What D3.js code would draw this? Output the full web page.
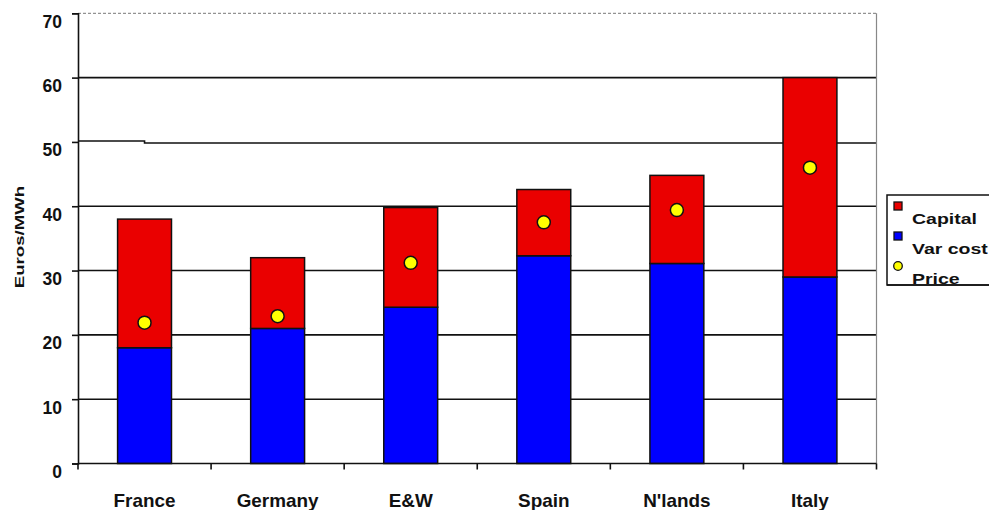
<!DOCTYPE html>
<html>
<head>
<meta charset="utf-8">
<script src="https://cdn.jsdelivr.net/npm/d3@7"></script>
<style>
  html, body { margin: 0; padding: 0; background: #fff; }
  svg { display: block; font-family: "Liberation Sans", Arial, sans-serif; }
</style>
</head>
<body>
<svg id="chart" width="989" height="510"></svg>
<script>
// Generation cost components and observed prices by market (Euros/MWh)
const categories = ["France", "Germany", "E&W", "Spain", "N'lands", "Italy"];
const varCost = [18, 21, 24.3, 32.3, 31.1, 29];
const capital = [20, 11, 15.5, 10.3, 13.7, 31];
const price = [21.9, 22.9, 31.2, 37.5, 39.4, 46];
const yTicks = [0, 10, 20, 30, 40, 50, 60, 70];
const legendItems = ["Capital", "Var cost", "Price"];

const colors = { capital: "#ea0000", varCost: "#0000ff", price: "#ffff00" };
const ink = "#111";

const svg = d3.select("#chart");
const plot = { left: 78, right: 876.5, top: 13.3, bottom: 463.5 };

const x = d3.scaleBand().domain(categories).range([plot.left, plot.right]).padding(0);
const y = d3.scaleLinear().domain([0, 70]).range([plot.bottom, plot.top]);
const barFrac = 0.405;
const barW = x.bandwidth() * barFrac;
const barX = c => x(c) + (x.bandwidth() - barW) / 2;

// Gridlines (the 50 line has a small step in it near the axis)
const grid = svg.append("g");
yTicks.filter(v => v > 0 && v < 70).forEach(v => {
  if (v === 50) {
    const stepX = plot.left + x.bandwidth() / 2;
    grid.append("path")
      .attr("d", `M${plot.left},${y(v) - 1}H${stepX}V${y(v) + 1}H${plot.right}`)
      .attr("fill", "none").attr("stroke", ink).attr("stroke-width", 1.6);
  } else {
    grid.append("line")
      .attr("x1", plot.left).attr("x2", plot.right)
      .attr("y1", y(v)).attr("y2", y(v))
      .attr("stroke", ink).attr("stroke-width", 1.6);
  }
});

// Top and right frame
svg.append("line")
  .attr("x1", plot.left).attr("x2", plot.right)
  .attr("y1", y(70)).attr("y2", y(70))
  .attr("stroke", "#777").attr("stroke-width", 1).attr("stroke-dasharray", "3,2");
svg.append("line")
  .attr("x1", plot.right).attr("x2", plot.right)
  .attr("y1", y(70)).attr("y2", plot.bottom)
  .attr("stroke", "#888").attr("stroke-width", 1.2);

// Stacked bars
const bars = svg.append("g");
categories.forEach((c, i) => {
  bars.append("rect")
    .attr("x", barX(c)).attr("width", barW)
    .attr("y", y(varCost[i])).attr("height", y(0) - y(varCost[i]))
    .attr("fill", colors.varCost).attr("stroke", ink).attr("stroke-width", 1.5);
  bars.append("rect")
    .attr("x", barX(c)).attr("width", barW)
    .attr("y", y(varCost[i] + capital[i])).attr("height", y(varCost[i]) - y(varCost[i] + capital[i]))
    .attr("fill", colors.capital).attr("stroke", ink).attr("stroke-width", 1.5);
});

// Price markers
svg.append("g").selectAll("circle")
  .data(categories)
  .join("circle")
  .attr("cx", c => x(c) + x.bandwidth() / 2)
  .attr("cy", (c, i) => y(price[i]))
  .attr("r", 6.5)
  .attr("fill", colors.price).attr("stroke", ink).attr("stroke-width", 1.5);

// Y axis
const yAxis = svg.append("g")
  .attr("transform", `translate(${plot.left},0)`)
  .call(d3.axisLeft(y).tickValues(yTicks).tickSize(6).tickPadding(10));
yAxis.select(".domain").attr("stroke", ink).attr("stroke-width", 1.6);
yAxis.selectAll(".tick line").attr("stroke", ink).attr("stroke-width", 1.6);
yAxis.selectAll(".tick text")
  .attr("font-size", 17.5).attr("font-weight", "bold").attr("fill", ink)
  .attr("dy", "0.8em").attr("font-family", "Liberation Sans, Arial, sans-serif");

// X axis with ticks at category boundaries
const xAxis = svg.append("g")
  .attr("transform", `translate(0,${plot.bottom})`);
xAxis.append("line")
  .attr("x1", plot.left).attr("x2", plot.right)
  .attr("stroke", ink).attr("stroke-width", 1.6);
xAxis.selectAll("line.tk")
  .data(categories.concat(["_end"]))
  .join("line").attr("class", "tk")
  .attr("x1", (c, i) => i < categories.length ? x(c) : plot.right)
  .attr("x2", (c, i) => i < categories.length ? x(c) : plot.right)
  .attr("y1", 0).attr("y2", 6)
  .attr("stroke", ink).attr("stroke-width", 1.6);
xAxis.selectAll("text")
  .data(categories)
  .join("text")
  .attr("x", c => x(c) + x.bandwidth() / 2)
  .attr("y", 44)
  .attr("text-anchor", "middle")
  .attr("font-size", 17.5).attr("font-weight", "bold").attr("fill", ink)
  .attr("transform", c => `translate(${x(c) + x.bandwidth() / 2},0) scale(1.08,1) translate(${-(x(c) + x.bandwidth() / 2)},0)`)
  .text(c => c);

// Y axis title
svg.append("text")
  .attr("transform", "translate(24,237) rotate(-90) scale(1.38,1)")
  .attr("text-anchor", "middle")
  .attr("font-size", 13.5).attr("font-weight", "bold").attr("fill", ink)
  .text("Euros/MWh");

// Legend
const legend = svg.append("g").attr("transform", "translate(887,195)");
legend.append("rect")
  .attr("x", 0).attr("y", 0).attr("width", 140).attr("height", 90)
  .attr("fill", "#fff").attr("stroke", ink).attr("stroke-width", 1.5);
const legendColors = [colors.capital, colors.varCost, colors.price];
legendItems.forEach((name, i) => {
  const gy = 30 * i;
  if (i < 2) {
    legend.append("rect")
      .attr("x", 7).attr("y", gy + 7).attr("width", 8).attr("height", 8)
      .attr("fill", legendColors[i]).attr("stroke", ink).attr("stroke-width", 1.3);
  } else {
    legend.append("circle")
      .attr("cx", 11).attr("cy", gy + 11).attr("r", 4.3)
      .attr("fill", legendColors[i]).attr("stroke", ink).attr("stroke-width", 1.3);
  }
  legend.append("text")
    .attr("transform", `translate(25,${gy + 29}) scale(1.3,1)`)
    .attr("font-size", 15).attr("font-weight", "bold").attr("fill", ink)
    .text(name);
});
// Keep the bottom border drawn over the last legend label
legend.append("line")
  .attr("x1", 0).attr("x2", 140).attr("y1", 90).attr("y2", 90)
  .attr("stroke", ink).attr("stroke-width", 1.5);
</script>
</body>
</html>
